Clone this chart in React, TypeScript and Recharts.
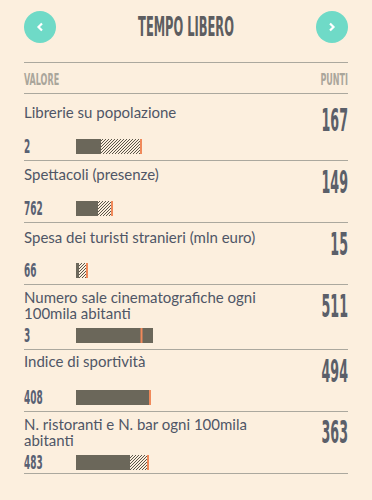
import React from "react";
import { BarChart, Bar, XAxis, YAxis, ReferenceLine } from "recharts";

// ---- data ----
const title = "TEMPO LIBERO";
const headerLeft = "VALORE";
const headerRight = "PUNTI";
const categories = [
  "Librerie su popolazione",
  "Spettacoli (presenze)",
  "Spesa dei turisti stranieri (mln euro)",
  "Numero sale cinematografiche ogni\n100mila abitanti",
  "Indice di sportività",
  "N. ristoranti e N. bar ogni 100mila\nabitanti",
];
const valueLabels = ["2", "762", "66", "3", "408", "483"];
const points = [167, 149, 15, 511, 494, 363];
const solidPart = [25, 22, 3, 77, 73, 54];
const hatchPart = [39, 13, 7, 0, 0, 17];
const markerPos = [65, 36, 11, 65.5, 74, 72];

// ---- layout & style ----
const W = 372;
const H = 500;
const LINES = [62, 93, 160, 222, 284, 349, 411, 473];
const LABEL_BASE = [118, 180, 243, 303, 367, 430];
const LABEL_LH = 16;
const POINT_BASE = [131, 193, 255, 317, 382, 443];
const BAR_TOP = [139, 201, 263, 328, 390, 455];

const BG = "#fcefde";
const TEAL = "#6fdac7";
const RULE = "#aba89e";
const SOLID = "#6b675a";
const HATCH_INK = "#5a5549";
const ORANGE = "#f0895a";
const TITLE_C = "#5d5d60";
const HEAD_C = "#aaa69b";
const LABEL_C = "#4f5666";
const POINT_C = "#5b5f69";
const VALUE_C = "#586072";
const NARROW = "'Liberation Sans Narrow', 'DejaVu Sans Condensed', sans-serif";

function RowBar({ i }: { i: number }) {
  const data = [{ name: categories[i], solid: solidPart[i], hatch: hatchPart[i] }];
  return (
    <div style={{ position: "absolute", left: 76, top: BAR_TOP[i], width: 110, height: 15 }}>
      <BarChart
        width={110}
        height={15}
        data={data}
        layout="vertical"
        margin={{ top: 0, right: 0, bottom: 0, left: 0 }}
        barCategoryGap={0}
      >
        <XAxis type="number" domain={[0, 110]} hide />
        <YAxis type="category" dataKey="name" hide />
        <Bar dataKey="solid" stackId="a" fill={SOLID} isAnimationActive={false} />
        <Bar dataKey="hatch" stackId="a" fill="url(#hatch)" isAnimationActive={false} />
        <ReferenceLine x={markerPos[i]} stroke={ORANGE} strokeWidth={2} />
      </BarChart>
    </div>
  );
}

export default function App() {
  return (
    <div style={{ position: "absolute", left: 0, top: 0, width: W, height: H, background: BG, overflow: "hidden" }}>
      <svg width={0} height={0} style={{ position: "absolute" }}>
        <defs>
          <pattern id="hatch" patternUnits="userSpaceOnUse" width={3} height={3}>
            <rect width={3} height={3} fill={BG} />
            <path d="M-1,1 L1,-1 M0,3 L3,0 M2,4 L4,2" stroke={HATCH_INK} strokeWidth={1} />
          </pattern>
        </defs>
      </svg>
      <svg width={W} height={H} style={{ position: "absolute", left: 0, top: 0 }}>
        {/* header buttons */}
        <circle cx={40} cy={27} r={16} fill={TEAL} />
        <polyline points="42,23.5 38.5,27 42,30.5" fill="none" stroke="#fff" strokeWidth={2.2} />
        <circle cx={332} cy={27} r={16} fill={TEAL} />
        <polyline points="330,23.5 333.5,27 330,30.5" fill="none" stroke="#fff" strokeWidth={2.2} />
        <text
          transform="translate(186,36) scale(0.49,1)"
          textAnchor="middle"
          fontFamily={NARROW}
          fontWeight="bold"
          fontSize={26}
          fill={TITLE_C}
        >
          {title}
        </text>
        {LINES.map((y, k) => (
          <line key={k} x1={24} x2={348} y1={y + 0.5} y2={y + 0.5} stroke={RULE} strokeWidth={1} />
        ))}
        <text transform="translate(24,85) scale(0.58,1)" fontFamily={NARROW} fontWeight="bold" fontSize={15.4} fill={HEAD_C}>
          {headerLeft}
        </text>
        <text
          transform="translate(348,85) scale(0.58,1)"
          textAnchor="end"
          fontFamily={NARROW}
          fontWeight="bold"
          fontSize={15.4}
          fill={HEAD_C}
        >
          {headerRight}
        </text>
        {categories.map((c, i) =>
          c.split("\n").map((ln, k) => (
            <text
              key={"l" + i + "_" + k}
              x={24}
              y={LABEL_BASE[i] + k * LABEL_LH}
              fontFamily="Lato, sans-serif"
              fontSize={15}
              fill={LABEL_C}
            >
              {ln}
            </text>
          ))
        )}
        {points.map((p, i) => (
          <text
            key={"p" + i}
            transform={`translate(348,${POINT_BASE[i]}) scale(0.44,1)`}
            textAnchor="end"
            fontFamily={NARROW}
            fontWeight="bold"
            fontSize={32}
            fill={POINT_C}
          >
            {p}
          </text>
        ))}
        {valueLabels.map((v, i) => (
          <text
            key={"v" + i}
            transform={`translate(24,${BAR_TOP[i] + 14}) scale(0.51,1)`}
            fontFamily={NARROW}
            fontWeight="bold"
            fontSize={19.5}
            fill={VALUE_C}
          >
            {v}
          </text>
        ))}
      </svg>
      {categories.map((_, i) => (
        <RowBar key={i} i={i} />
      ))}
    </div>
  );
}
